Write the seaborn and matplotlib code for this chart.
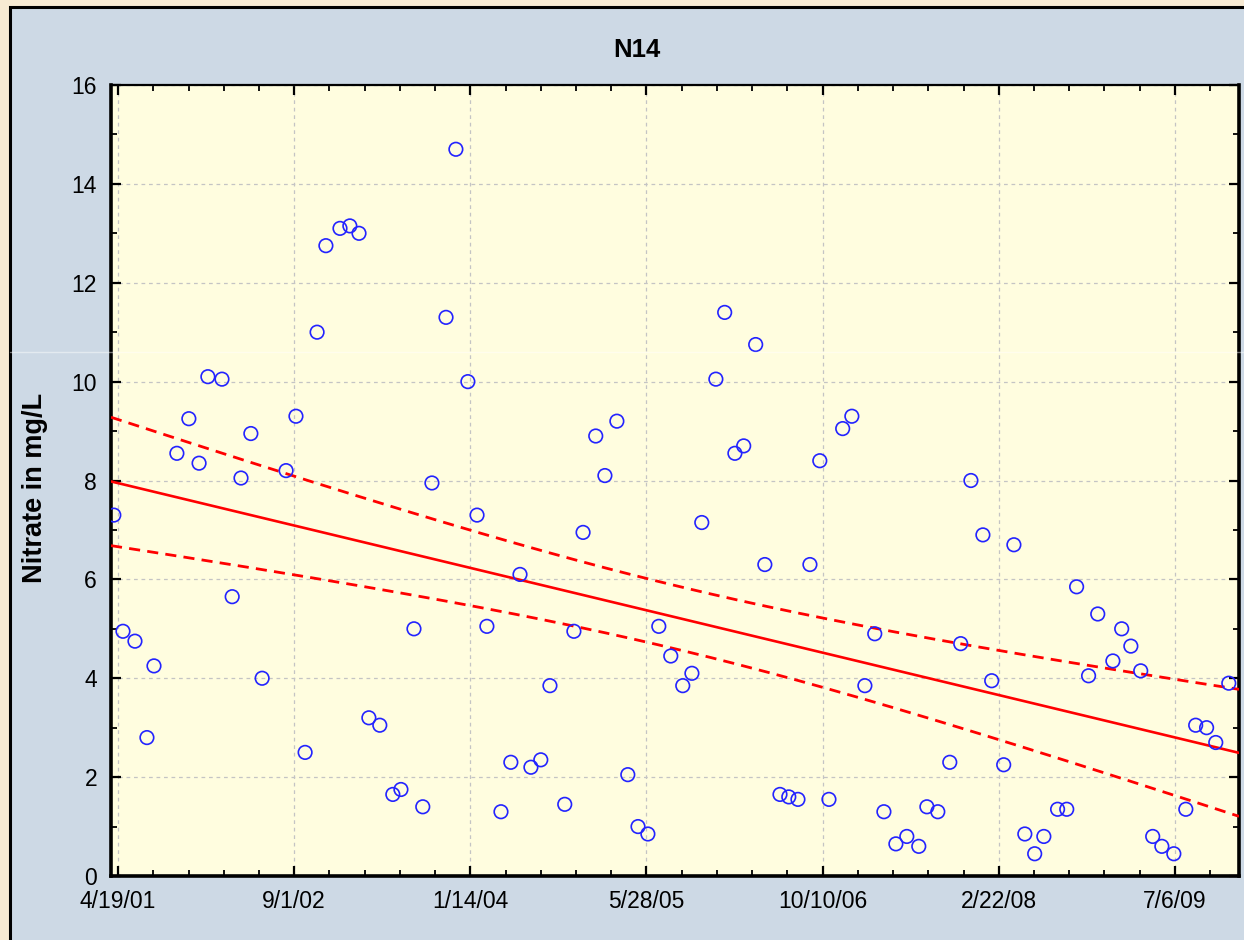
import numpy as np
import pandas as pd
import matplotlib
matplotlib.use("Agg")
import matplotlib.pyplot as plt
import matplotlib.dates as mdates
from matplotlib.patches import Rectangle
from matplotlib.lines import Line2D
from matplotlib.ticker import FixedLocator, FuncFormatter
import seaborn as sns

# ---------------- data ----------------
title = "N14"
y_label = "Nitrate in mg/L"
start_date = "2001-04-19"          # first labelled date on the x axis
tick_step_days = 500               # spacing of labelled dates
n_date_ticks = 7
minor_step_days = 100
x_min_day, x_max_day = -20, 3182   # axis range, days from start_date
y_ticks = [0, 2, 4, 6, 8, 10, 12, 14, 16]

# sampling day (days after start_date) and nitrate concentration (mg/L)
sample_day = [-12, 14, 48, 82, 102, 167, 201, 230, 255, 295, 324, 349, 377, 409,
              477, 505, 531, 565, 590, 630, 658, 684, 712, 743, 780, 803, 840,
              865, 891, 931, 959, 993, 1019, 1047, 1087, 1115, 1141, 1172, 1200,
              1226, 1268, 1294, 1320, 1356, 1382, 1416, 1447, 1476, 1504, 1535,
              1569, 1603, 1629, 1657, 1697, 1722, 1751, 1776, 1810, 1836, 1879,
              1904, 1930, 1964, 1992, 2018, 2057, 2083, 2120, 2148, 2174, 2208,
              2239, 2273, 2296, 2327, 2361, 2392, 2421, 2455, 2480, 2514, 2543,
              2574, 2602, 2628, 2667, 2693, 2721, 2755, 2781, 2824, 2849, 2875,
              2903, 2937, 2963, 2997, 3031, 3059, 3090, 3116, 3153]
nitrate = [7.3, 4.95, 4.75, 2.8, 4.25, 8.55, 9.25, 8.35, 10.1, 10.05, 5.65, 8.05,
           8.95, 4.0, 8.2, 9.3, 2.5, 11.0, 12.75, 13.1, 13.15, 13.0, 3.2, 3.05,
           1.65, 1.75, 5.0, 1.4, 7.95, 11.3, 14.7, 10.0, 7.3, 5.05, 1.3, 2.3,
           6.1, 2.2, 2.35, 3.85, 1.45, 4.95, 6.95, 8.9, 8.1, 9.2, 2.05, 1.0,
           0.85, 5.05, 4.45, 3.85, 4.1, 7.15, 10.05, 11.4, 8.55, 8.7, 10.75,
           6.3, 1.65, 1.6, 1.55, 6.3, 8.4, 1.55, 9.05, 9.3, 3.85, 4.9, 1.3,
           0.65, 0.8, 0.6, 1.4, 1.3, 2.3, 4.7, 8.0, 6.9, 3.95, 2.25, 6.7, 0.85,
           0.45, 0.8, 1.35, 1.35, 5.85, 4.05, 5.3, 4.35, 5.0, 4.65, 4.15, 0.8,
           0.6, 0.45, 1.35, 3.05, 3.0, 2.7, 3.9]
t_crit = 1.984   # two-sided 95 % t quantile, df = n - 2

# ---------------- figure ----------------
W, H = 1244, 940
sns.set_theme(style="ticks")
plt.rcParams["font.family"] = ["Liberation Sans", "DejaVu Sans"]
plt.rcParams["text.color"] = "black"

fig = plt.figure(figsize=(W / 100, H / 100), dpi=100)
fig.patch.set_facecolor("#f7ead3")
fig.add_artist(Rectangle((9.5 / W, -0.05), 1.2, 1.05 - 6.5 / H,
                         transform=fig.transFigure, facecolor="#cdd9e5",
                         edgecolor="black", linewidth=2.2, zorder=0))

ax = fig.add_axes([111 / W, 1 - 876 / H, (1239 - 111) / W, (876 - 85) / H])
ax.set_facecolor("#fffddf")

start = pd.Timestamp(start_date)
df = pd.DataFrame({"date": start + pd.to_timedelta(sample_day, unit="D"),
                   "nitrate": nitrate})

# linear regression with 95% confidence band
xd = np.asarray(sample_day, float)
yv = np.asarray(nitrate, float)
n = len(xd)
slope, intercept = np.polyfit(xd, yv, 1)
resid = yv - (intercept + slope * xd)
s = np.sqrt(np.sum(resid ** 2) / (n - 2))
xbar = xd.mean()
sxx = np.sum((xd - xbar) ** 2)
grid_days = np.linspace(x_min_day, x_max_day, 300)
fit = intercept + slope * grid_days
half = t_crit * s * np.sqrt(1.0 / n + (grid_days - xbar) ** 2 / sxx)
grid_dates = start + pd.to_timedelta(grid_days, unit="D")

ax.plot(grid_dates, fit, color="#ff0000", linewidth=1.9, zorder=3)
for band in (fit + half, fit - half):
    ax.plot(grid_dates, band, color="#ff0000", linewidth=2.0,
            linestyle=(0, (4, 2.6)), zorder=3)

sns.scatterplot(data=df, x="date", y="nitrate", ax=ax, marker="o", s=95,
                facecolor="none", edgecolor="#2323ff", linewidth=1.2, zorder=4)

# axes ranges and ticks
ax.set_xlim(start + pd.Timedelta(days=x_min_day), start + pd.Timedelta(days=x_max_day))
ax.set_ylim(y_ticks[0], y_ticks[-1])

major_dates = [start + pd.Timedelta(days=k * tick_step_days) for k in range(n_date_ticks)]
minor_dates = [start + pd.Timedelta(days=k * minor_step_days)
               for k in range(int(x_max_day // minor_step_days) + 1)]
ax.xaxis.set_major_locator(FixedLocator(mdates.date2num(major_dates)))
ax.xaxis.set_minor_locator(FixedLocator(mdates.date2num(minor_dates)))


def fmt_date(v, pos):
    d = mdates.num2date(v)
    return f"{d.month}/{d.day}/{d:%y}"


ax.xaxis.set_major_formatter(FuncFormatter(fmt_date))
ax.set_yticks(y_ticks)
ax.set_yticks(np.arange(1, 16, 2), minor=True)

ax.tick_params(which="both", direction="in", top=True, right=True,
               colors="black", labelsize=16.5)
ax.tick_params(which="major", length=7, width=1.6, pad=10)
ax.tick_params(which="minor", length=4, width=1.3)
for lab in ax.get_xticklabels() + ax.get_yticklabels():
    lab.set_color("black")

ax.grid(True, which="major", color="#c4c4c4", linestyle=(0, (3, 3)), linewidth=0.9)
ax.set_axisbelow(True)

for side, lw in [("left", 2.6), ("bottom", 2.6), ("right", 2.6), ("top", 1.6)]:
    ax.spines[side].set_color("black")
    ax.spines[side].set_linewidth(lw)

ax.set_xlabel("")
ax.set_ylabel("")
fig.text(637 / W, 1 - 50 / H, title, ha="center", va="center", fontsize=18.5,
         fontweight="bold", color="black")
fig.text(35 / W, 1 - 488 / H, y_label, ha="center", va="center", rotation=90,
         fontsize=19.5, fontweight="bold", color="black")

# faint horizontal artefact line across the panel
fig.add_artist(Line2D([10 / W, 1], [1 - 352 / H] * 2, transform=fig.transFigure,
                      color="white", alpha=0.45, linewidth=1, zorder=10))

fig.savefig("out.png", dpi=100, facecolor=fig.get_facecolor())
